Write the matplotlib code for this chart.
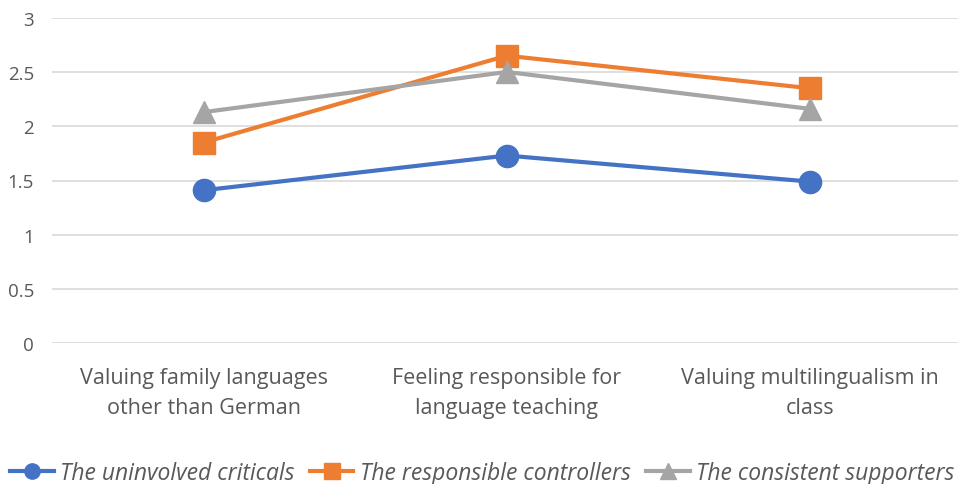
import matplotlib
matplotlib.use("Agg")
import matplotlib.pyplot as plt

categories = ["Valuing family languages\nother than German",
              "Feeling responsible for\nlanguage teaching",
              "Valuing multilingualism in\nclass"]
series_names = ["The uninvolved criticals", "The responsible controllers", "The consistent supporters"]
uninvolved = [1.41, 1.73, 1.49]
responsible = [1.85, 2.65, 2.35]
consistent = [2.13, 2.50, 2.16]
yticks = [0, 0.5, 1, 1.5, 2, 2.5, 3]
ytick_labels = ["0", "0.5", "1", "1.5", "2", "2.5", "3"]

plt.rcParams['font.family'] = ['Open Sans', 'DejaVu Sans']

fig = plt.figure(figsize=(9.58, 4.85), dpi=100)
ax = fig.add_axes([52/958, 1 - 344.3/485, (961.5-52)/958, (344.3-18.7)/485])

x = list(range(len(categories)))
colors = ["#4472C4", "#ED7D31", "#A5A5A5"]
markers = ["o", "s", "^"]
msizes = [16, 15.5, 16]
data = [uninvolved, responsible, consistent]
handles = []
for vals, c, m, ms, name in zip(data, colors, markers, msizes, series_names):
    h, = ax.plot(x, vals, color=c, lw=3, marker=m, markersize=ms, label=name, zorder=3)
    handles.append(h)

ax.set_xlim(-0.5, 2.5)
ax.set_ylim(0, 3)
ax.set_yticks(yticks)
ax.set_yticklabels(ytick_labels)
ax.set_xticks(x)
ax.set_xticklabels(categories, fontsize=15.5, color="#595959", linespacing=1.55)
ax.tick_params(axis='y', labelsize=13.5, colors="#595959", length=0, pad=13)
ax.tick_params(axis='x', length=0, pad=17)
ax.grid(axis='y', color="#D9D9D9", lw=1.2)
ax.set_axisbelow(True)
for s in ax.spines.values():
    s.set_visible(False)

leg = fig.legend(handles=handles, loc='center left', bbox_to_anchor=(10/958, 1 - 474/485), ncol=3,
                 frameon=False, handlelength=1.9, columnspacing=0.65,
                 handletextpad=0.3, borderaxespad=0.0, borderpad=0.0,
                 prop={'style': 'italic', 'size': 16.5})
for t in leg.get_texts():
    t.set_color("#595959")
for lh in leg.legend_handles:
    lh.set_markersize(11)

fig.savefig("out.png", dpi=100)
